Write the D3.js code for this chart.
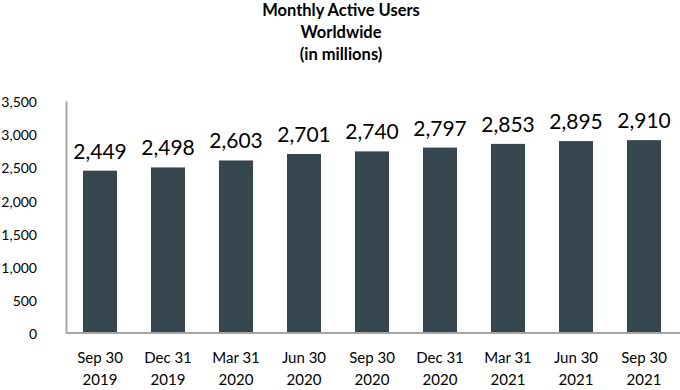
<!DOCTYPE html>
<html><head><meta charset="utf-8">
<script src="https://cdn.jsdelivr.net/npm/d3@7"></script>
<style>body{margin:0;background:#fff}svg{display:block}</style>
</head><body>
<svg id="c" width="680" height="390"></svg>
<script>
const categories = [["Sep 30","2019"],["Dec 31","2019"],["Mar 31","2020"],["Jun 30","2020"],["Sep 30","2020"],["Dec 31","2020"],["Mar 31","2021"],["Jun 30","2021"],["Sep 30","2021"]];
const values = [2449, 2498, 2603, 2701, 2740, 2797, 2853, 2895, 2910];
const yTicks = [0, 500, 1000, 1500, 2000, 2500, 3000, 3500];
const titleLines = ["Monthly Active Users", "Worldwide", "(in millions)"];

(function(){
const svg = d3.select("#c");
const font = "Lato, 'Open Sans', sans-serif";
const mLeft = 66, mRight = 678, mTop = 101, mBottom = 333;

const x = d3.scaleBand().domain(categories.map((d,i)=>i)).range([mLeft, mRight]).paddingInner(0.5).paddingOuter(0.25);
const y = d3.scaleLinear().domain([0, 3500]).range([mBottom, mTop]);
const fmt = d3.format(",");

svg.selectAll("text.title").data(titleLines).join("text").attr("class","title")
  .attr("x", 341).attr("y", (d,i)=>16 + i*22)
  .attr("text-anchor","middle").attr("font-family",font).attr("font-weight","bold")
  .attr("font-size",16.5).attr("fill","#000").text(d=>d);

const ya = svg.append("g").attr("transform",`translate(${mLeft},0)`)
  .call(d3.axisLeft(y).tickValues(yTicks).tickFormat(fmt).tickSize(0).tickPadding(29));
ya.select(".domain").attr("stroke","#a6a6a6").attr("stroke-width",2);
ya.selectAll("text").attr("font-family",font).attr("font-size",14).attr("fill","#000").attr("dy","0.4em");

svg.selectAll("rect.bar").data(values).join("rect").attr("class","bar")
  .attr("x",(d,i)=>x(i)).attr("width",x.bandwidth())
  .attr("y",d=>y(d)).attr("height",d=>mBottom-y(d)).attr("fill","#36464f");

const xa = svg.append("g").attr("transform",`translate(0,${mBottom})`)
  .call(d3.axisBottom(x).tickSize(0).tickFormat(()=>""));
xa.select(".domain").attr("stroke","#a6a6a6").attr("stroke-width",2).attr("d",`M${mLeft},0H680`);
xa.selectAll(".tick text").remove();
xa.selectAll(".tick").each(function(d){
  const t = d3.select(this).append("text").attr("font-family",font).attr("font-size",15)
    .attr("fill","#000").attr("text-anchor","middle");
  t.append("tspan").attr("x",0).attr("y",30).text(categories[d][0]);
  t.append("tspan").attr("x",0).attr("y",52).text(categories[d][1]);
});

svg.selectAll("text.val").data(values).join("text").attr("class","val")
  .attr("x",(d,i)=>x(i)+x.bandwidth()/2).attr("y",d=>y(d)-12)
  .attr("text-anchor","middle").attr("font-family",font).attr("font-size",21)
  .attr("fill","#000").text(d=>fmt(d));
})();
</script>
</body></html>
